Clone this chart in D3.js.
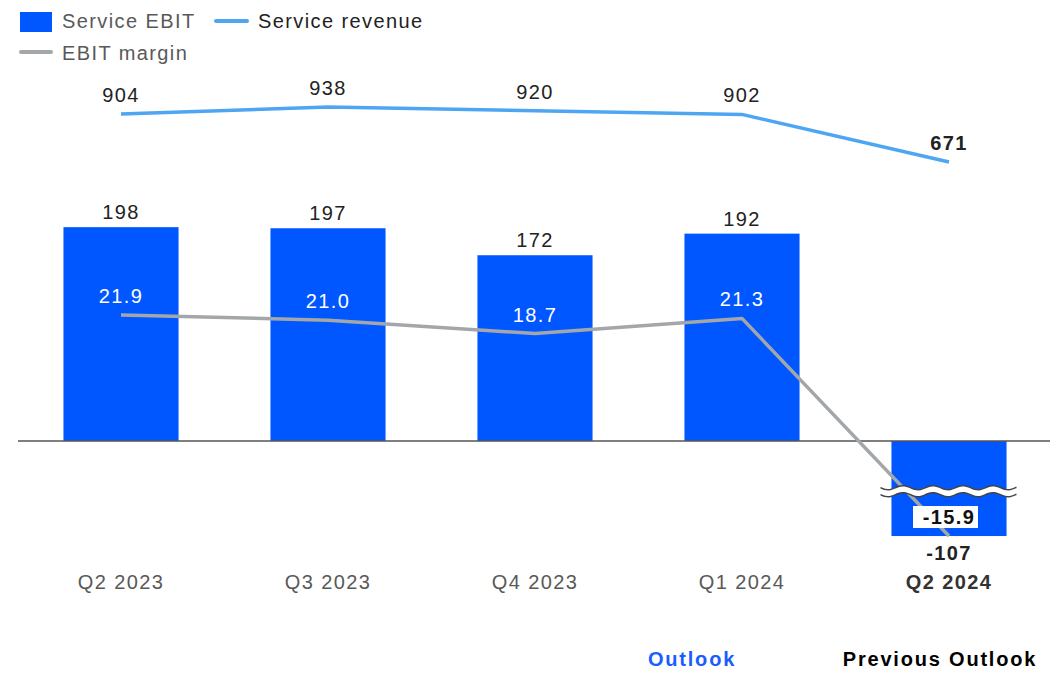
<!DOCTYPE html>
<html>
<head>
<meta charset="utf-8">
<script src="https://cdn.jsdelivr.net/npm/d3@7"></script>
<style>
  body { margin: 0; background: #fff; }
  svg { display: block; font-family: "Liberation Sans", Arial, sans-serif; }
  text { letter-spacing: 1.4px; }
  text.foot { letter-spacing: 1.8px; }
</style>
</head>
<body>
<div id="chart"></div>
<script>
const quarters = ["Q2 2023", "Q3 2023", "Q4 2023", "Q1 2024", "Q2 2024"];
const serviceEbit = [198, 197, 172, 192, -107];
const serviceRevenue = [904, 938, 920, 902, 671];
const ebitMargin = [21.9, 21.0, 18.7, 21.3, -15.9];
const ebitBreakFloor = -88; // bar is cut (axis break) below this value
const legendItems = ["Service EBIT", "Service revenue", "EBIT margin"];
const footLabels = ["Outlook", "Previous Outlook"];

const width = 1050, height = 677;
const barColor = "#0057ff";
const revColor = "#4ea6f3";
const marginColor = "#a4a7aa";

const svg = d3.select("#chart").append("svg")
  .attr("width", width)
  .attr("height", height);

const x = d3.scaleBand()
  .domain(quarters)
  .range([17.5, 1052.5])
  .paddingInner(0.444)
  .paddingOuter(0.222);
const cx = (q) => x(q) + x.bandwidth() / 2;

const yEbit = d3.scaleLinear().domain([-100, 200]).range([549, 225]);
const yRev = d3.scaleLinear().domain([0, 1000]).range([300.2, 94.2]);
const yMargin = d3.scaleLinear().domain([0, 20]).range([443, 326]);

const last = quarters.length - 1;

// bars
svg.selectAll("rect.bar")
  .data(serviceEbit)
  .join("rect")
  .attr("class", "bar")
  .attr("x", (d, i) => x(quarters[i]))
  .attr("width", x.bandwidth())
  .attr("y", (d) => yEbit(Math.max(0, d)))
  .attr("height", (d) => Math.abs(yEbit(Math.max(d, ebitBreakFloor)) - yEbit(0)))
  .attr("fill", barColor);

// zero line
svg.append("line")
  .attr("x1", 18).attr("x2", 1050)
  .attr("y1", yEbit(0)).attr("y2", yEbit(0))
  .attr("stroke", "#555")
  .attr("stroke-width", 1.6);

// revenue line
const revLine = d3.line()
  .x((d, i) => cx(quarters[i]))
  .y((d) => yRev(d));
svg.append("path")
  .datum(serviceRevenue)
  .attr("d", revLine)
  .attr("fill", "none")
  .attr("stroke", revColor)
  .attr("stroke-width", 3.5)
  .attr("stroke-linejoin", "round");

// margin line
const marginLine = d3.line()
  .x((d, i) => cx(quarters[i]))
  .y((d) => yMargin(d));
svg.append("path")
  .datum(ebitMargin)
  .attr("d", marginLine)
  .attr("fill", "none")
  .attr("stroke", marginColor)
  .attr("stroke-width", 3.5)
  .attr("stroke-linejoin", "round");

// axis break on the negative bar
function wave(y0) {
  const x0 = x(quarters[last]) - 11, x1 = x(quarters[last]) + x.bandwidth() + 11;
  const pts = [];
  for (let xx = x0; xx <= x1; xx += 2) {
    pts.push([xx, y0 + 2 * Math.sin((xx - x0) / 30 * 2 * Math.PI)]);
  }
  return pts;
}
const breakY = yEbit(-46);
const waveTop = wave(breakY - 3), waveBot = wave(breakY + 4);
svg.append("path")
  .attr("d", d3.line()(waveTop.concat(waveBot.slice().reverse())) + "Z")
  .attr("fill", "#fff");
[waveTop, waveBot].forEach((pts) => {
  svg.append("path")
    .attr("d", d3.line()(pts))
    .attr("fill", "none")
    .attr("stroke", "#444")
    .attr("stroke-width", 1.5);
});

// EBIT value labels
svg.selectAll("text.ebit")
  .data(serviceEbit)
  .join("text")
  .attr("class", "ebit")
  .attr("x", (d, i) => cx(quarters[i]))
  .attr("y", (d) => d >= 0 ? yEbit(d) - 8 : yEbit(Math.max(d, ebitBreakFloor)) + 24)
  .attr("text-anchor", "middle")
  .attr("font-size", 20)
  .attr("font-weight", (d, i) => i === last ? "bold" : "normal")
  .attr("fill", "#222")
  .text((d) => d);

// revenue labels
svg.selectAll("text.rev")
  .data(serviceRevenue)
  .join("text")
  .attr("class", "rev")
  .attr("x", (d, i) => cx(quarters[i]))
  .attr("y", (d) => yRev(d) - 12)
  .attr("text-anchor", "middle")
  .attr("font-size", 20)
  .attr("font-weight", (d, i) => i === last ? "bold" : "normal")
  .attr("fill", "#222")
  .text((d) => d);

// margin labels
const mLabels = svg.selectAll("g.mlab")
  .data(ebitMargin)
  .join("g")
  .attr("class", "mlab");
mLabels.filter((d, i) => i === last)
  .append("rect")
  .attr("x", cx(quarters[last]) - 36)
  .attr("y", (d) => yMargin(d) - 30)
  .attr("width", 65)
  .attr("height", 22)
  .attr("fill", "#fff");
mLabels.append("text")
  .attr("x", (d, i) => cx(quarters[i]))
  .attr("y", (d) => yMargin(d) - 12)
  .attr("text-anchor", "middle")
  .attr("font-size", 20)
  .attr("font-weight", (d) => d < 0 ? "bold" : "normal")
  .attr("fill", (d) => d < 0 ? "#111" : "#fff")
  .text((d) => d.toFixed(1));

// category labels
svg.selectAll("text.cat")
  .data(quarters)
  .join("text")
  .attr("class", "cat")
  .attr("x", (d) => cx(d))
  .attr("y", 589)
  .attr("text-anchor", "middle")
  .attr("font-size", 20)
  .attr("font-weight", (d, i) => i === last ? "bold" : "normal")
  .attr("fill", (d, i) => i === last ? "#333" : "#595959")
  .text((d) => d);

// legend
svg.append("rect").attr("x", 20).attr("y", 12).attr("width", 32).attr("height", 20).attr("fill", barColor);
svg.append("text").attr("x", 62).attr("y", 28).attr("font-size", 20).attr("fill", "#595959").text(legendItems[0]);
svg.append("line").attr("x1", 216).attr("x2", 247).attr("y1", 21).attr("y2", 21)
  .attr("stroke", revColor).attr("stroke-width", 4).attr("stroke-linecap", "round");
svg.append("text").attr("x", 258).attr("y", 28).attr("font-size", 20).attr("fill", "#222").text(legendItems[1]);
svg.append("line").attr("x1", 21).attr("x2", 51).attr("y1", 52).attr("y2", 52)
  .attr("stroke", marginColor).attr("stroke-width", 4).attr("stroke-linecap", "round");
svg.append("text").attr("x", 62).attr("y", 60).attr("font-size", 20).attr("fill", "#595959").text(legendItems[2]);

// footer
svg.append("text").attr("class", "foot").attr("x", 692).attr("y", 666).attr("text-anchor", "middle")
  .attr("font-size", 20).attr("font-weight", "bold").attr("fill", "#1a5cff").text(footLabels[0]);
svg.append("text").attr("class", "foot").attr("x", 940).attr("y", 666).attr("text-anchor", "middle")
  .attr("font-size", 20).attr("font-weight", "bold").attr("fill", "#000").text(footLabels[1]);
</script>
</body>
</html>
